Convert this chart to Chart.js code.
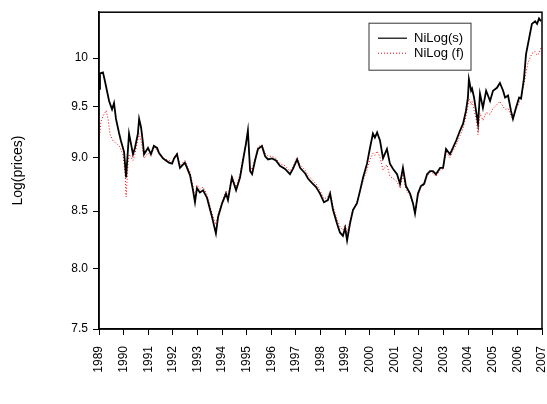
<!DOCTYPE html>
<html>
<head>
<meta charset="utf-8">
<script src="https://cdn.jsdelivr.net/npm/chart.js"></script>
<style>
  body { margin: 0; background: #fff; }
  #c { display: block; }
</style>
</head>
<body>
<canvas id="c" width="547" height="404"></canvas>
<script>
// NiLog(s) - spot
const sYears = [1989.0, 1989.04, 1989.16, 1989.24, 1989.41, 1989.53, 1989.61, 1989.69, 1989.81, 1989.89,
  1990.02, 1990.1, 1990.22, 1990.3, 1990.38, 1990.46, 1990.58, 1990.63, 1990.71, 1990.79, 1990.83, 1990.99,
  1991.11, 1991.23, 1991.36, 1991.44, 1991.6, 1991.72, 1991.84, 1991.97, 1992.05, 1992.17, 1992.29, 1992.49,
  1992.7, 1992.82, 1992.9, 1992.98, 1993.1, 1993.23, 1993.39, 1993.59, 1993.75, 1993.84, 1994.0, 1994.16,
  1994.24, 1994.4, 1994.57, 1994.73, 1994.85, 1994.97, 1995.05, 1995.14, 1995.22, 1995.34, 1995.46, 1995.62,
  1995.75, 1995.87, 1996.03, 1996.19, 1996.35, 1996.56, 1996.76, 1996.88, 1997.05, 1997.17, 1997.37, 1997.49,
  1997.65, 1997.82, 1997.98, 1998.14, 1998.3, 1998.39, 1998.51, 1998.67, 1998.79, 1998.91, 1999.0, 1999.08,
  1999.2, 1999.32, 1999.48, 1999.61, 1999.73, 1999.89, 2000.01, 2000.13, 2000.21, 2000.3, 2000.42, 2000.54,
  2000.7, 2000.82, 2000.95, 2001.11, 2001.23, 2001.35, 2001.47, 2001.64, 2001.76, 2001.84, 2001.96, 2002.08,
  2002.21, 2002.33, 2002.45, 2002.57, 2002.69, 2002.86, 2002.98, 2003.1, 2003.26, 2003.38, 2003.51, 2003.67,
  2003.79, 2003.91, 2003.99, 2004.03, 2004.12, 2004.16, 2004.24, 2004.32, 2004.4, 2004.48, 2004.6, 2004.73,
  2004.89, 2005.01, 2005.17, 2005.29, 2005.42, 2005.5, 2005.62, 2005.74, 2005.82, 2005.94, 2006.07, 2006.15,
  2006.27, 2006.35, 2006.43, 2006.51, 2006.59, 2006.72, 2006.8, 2006.88, 2006.96];
const sValues = [9.68, 9.84, 9.85, 9.76, 9.555, 9.47, 9.535, 9.375, 9.24, 9.16,
  9.05, 8.81, 9.23, 9.13, 9.03, 9.09, 9.23, 9.375, 9.29, 9.13, 9.03, 9.09,
  9.03, 9.11, 9.09, 9.04, 8.99, 8.97, 8.95, 8.94, 8.99, 9.03, 8.90, 8.95,
  8.83, 8.69, 8.58, 8.71, 8.67, 8.69, 8.62, 8.45, 8.30, 8.45, 8.57, 8.66,
  8.60, 8.81, 8.69, 8.81, 8.97, 9.13, 9.26, 8.87, 8.84, 8.97, 9.08, 9.11,
  9.01, 8.98, 8.99, 8.97, 8.92, 8.89, 8.84, 8.89, 8.98, 8.90, 8.85, 8.80,
  8.76, 8.72, 8.66, 8.58, 8.60, 8.66, 8.51, 8.39, 8.31, 8.28, 8.35, 8.24,
  8.39, 8.51, 8.57, 8.69, 8.81, 8.94, 9.09, 9.23, 9.19, 9.24, 9.16, 8.99,
  9.08, 8.94, 8.89, 8.84, 8.75, 8.90, 8.73, 8.66, 8.57, 8.48, 8.66, 8.73,
  8.75, 8.84, 8.87, 8.87, 8.84, 8.90, 8.90, 9.08, 9.03, 9.09, 9.16, 9.26,
  9.325, 9.455, 9.59, 9.78, 9.66, 9.68, 9.59, 9.455, 9.325, 9.63, 9.485, 9.66,
  9.555, 9.66, 9.69, 9.74, 9.66, 9.59, 9.61, 9.455, 9.375, 9.485, 9.59, 9.58,
  9.79, 10.04, 10.15, 10.26, 10.37, 10.40, 10.37, 10.43, 10.40];

// NiLog (f) - futures
const fYears = [1989.0, 1989.08, 1989.16, 1989.29, 1989.37, 1989.45, 1989.57, 1989.73, 1989.85, 1989.98,
  1990.06, 1990.1, 1990.18, 1990.22, 1990.38, 1990.46, 1990.63, 1990.71, 1990.83, 1990.99,
  1991.11, 1991.23, 1991.36, 1991.44, 1991.6, 1991.72, 1991.84, 1991.97, 1992.05, 1992.17, 1992.29, 1992.49,
  1992.7, 1992.82, 1992.9, 1992.98, 1993.1, 1993.23, 1993.39, 1993.59, 1993.75, 1993.84, 1994.0, 1994.16,
  1994.24, 1994.4, 1994.57, 1994.73, 1994.85, 1994.97, 1995.05, 1995.14, 1995.22, 1995.34, 1995.46, 1995.62,
  1995.75, 1995.87, 1996.03, 1996.19, 1996.35, 1996.56, 1996.76, 1996.88, 1997.05, 1997.17, 1997.37, 1997.49,
  1997.65, 1997.82, 1997.98, 1998.14, 1998.3, 1998.39, 1998.51, 1998.67, 1998.79, 1998.91, 1999.0, 1999.08,
  1999.2, 1999.32, 1999.48, 1999.61, 1999.73, 1999.89, 2000.01, 2000.13, 2000.21, 2000.3, 2000.42, 2000.54,
  2000.7, 2000.82, 2000.95, 2001.11, 2001.23, 2001.35, 2001.47, 2001.64, 2001.76, 2001.84, 2001.96, 2002.08,
  2002.21, 2002.33, 2002.45, 2002.57, 2002.69, 2002.86, 2002.98, 2003.1, 2003.26, 2003.38, 2003.51, 2003.67,
  2003.79, 2003.91, 2003.99, 2004.03, 2004.12, 2004.16, 2004.24, 2004.32, 2004.4, 2004.48, 2004.6, 2004.73,
  2004.89, 2005.01, 2005.17, 2005.29, 2005.42, 2005.5, 2005.62, 2005.74, 2005.82, 2005.94, 2006.07, 2006.15,
  2006.27, 2006.35, 2006.43, 2006.51, 2006.59, 2006.72, 2006.8, 2006.88, 2006.96];
const fValues = [9.15, 9.35, 9.40, 9.46, 9.37, 9.22, 9.16, 9.13, 9.10, 9.02,
  8.85, 8.63, 8.94, 9.03, 8.97, 9.03, 9.23, 9.16, 8.99, 9.04,
  9.01, 9.09, 9.07, 9.03, 9.00, 8.98, 8.97, 8.96, 9.00, 9.04, 8.92, 8.97,
  8.86, 8.72, 8.62, 8.74, 8.70, 8.72, 8.65, 8.48, 8.38, 8.47, 8.59, 8.68,
  8.63, 8.83, 8.72, 8.84, 8.99, 9.13, 9.22, 8.92, 8.88, 8.99, 9.10, 9.12,
  9.04, 9.01, 9.01, 8.99, 8.94, 8.92, 8.87, 8.91, 9.00, 8.93, 8.88, 8.83,
  8.79, 8.75, 8.69, 8.61, 8.63, 8.68, 8.54, 8.43, 8.36, 8.33, 8.38, 8.30,
  8.42, 8.52, 8.58, 8.68, 8.78, 8.88, 8.98, 9.04, 9.02, 9.06, 9.00, 8.88,
  8.93, 8.82, 8.80, 8.77, 8.71, 8.84, 8.70, 8.64, 8.56, 8.47, 8.64, 8.72,
  8.74, 8.82, 8.86, 8.85, 8.82, 8.88, 8.89, 9.05, 9.00, 9.06, 9.12, 9.21,
  9.28, 9.40, 9.50, 9.58, 9.52, 9.55, 9.46, 9.38, 9.22, 9.43, 9.36, 9.44,
  9.42, 9.48, 9.52, 9.55, 9.50, 9.47, 9.48, 9.41, 9.37, 9.47, 9.54, 9.60,
  9.73, 9.85, 9.95, 10.0, 10.05, 10.07, 10.03, 10.05, 10.11];

const yTicks = [7.5, 8.0, 8.5, 9.0, 9.5, 10];
const yTickLabels = ['7.5', '8.0', '8.5', '9.0', '9.5', '10'];
const seriesNames = ['NiLog(s)', 'NiLog (f)'];

Chart.defaults.font.family = '"Liberation Sans", Arial, sans-serif';
Chart.defaults.color = '#000';

function pts(xs, ys) {
  return xs.map(function (x, i) { return { x: x, y: ys[i] }; });
}

// box round the plot and the legend inside it
var boxPlugin = {
  id: 'boxPlugin',
  afterDraw: function (chart) {
    var ctx = chart.ctx, a = chart.chartArea;
    ctx.save();
    ctx.strokeStyle = '#000';
    ctx.lineWidth = 1.5;
    ctx.strokeRect(a.left, a.top, a.right - a.left, a.bottom - a.top);

    var lx = a.left + 270, ly = a.top + 11;
    ctx.lineWidth = 1;
    ctx.strokeStyle = '#333';
    ctx.strokeRect(lx, ly, 102, 47);
    ctx.font = '13px "Liberation Sans", Arial, sans-serif';
    ctx.textBaseline = 'middle';
    ctx.fillStyle = '#000';
    chart.data.datasets.forEach(function (ds, i) {
      var y = ly + 15 + i * 15;
      ctx.beginPath();
      ctx.strokeStyle = ds.borderColor;
      ctx.lineWidth = i == 0 ? 1.2 : 1;
      ctx.setLineDash(ds.borderDash || []);
      ctx.moveTo(lx + 9, y);
      ctx.lineTo(lx + 38, y);
      ctx.stroke();
      ctx.setLineDash([]);
      ctx.fillText(ds.label, lx + 45, y);
    });
    ctx.restore();
  }
};

var ctx = document.getElementById('c').getContext('2d');

var data = {
  datasets: [
    {
      label: seriesNames[0],
      data: pts(sYears, sValues),
      borderColor: '#000',
      borderWidth: 1.8,
      pointRadius: 0,
      tension: 0
    },
    {
      label: seriesNames[1],
      data: pts(fYears, fValues),
      borderColor: '#ff0000',
      borderWidth: 1,
      borderDash: [1, 2],
      pointRadius: 0,
      tension: 0
    }
  ]
};

var options = {
  responsive: false,
  animation: false,
  layout: { padding: { left: 0, right: 5, top: 11, bottom: 0 } },
  plugins: { legend: { display: false }, tooltip: { enabled: false } },
  scales: {
    x: {
      type: 'linear',
      min: 1989,
      max: 2007,
      grid: { drawOnChartArea: false, drawTicks: true, tickLength: 6, color: '#000' },
      border: { color: '#000', width: 1.5 },
      ticks: {
        stepSize: 1,
        minRotation: 90,
        maxRotation: 90,
        padding: 11,
        font: { size: 12 },
        callback: function (v) { return String(v); }
      },
      afterFit: function (s) { s.height = 75; s.paddingLeft = 0; s.paddingRight = 0; }
    },
    y: {
      type: 'logarithmic',
      min: 7.5,
      max: 10.5,
      grid: { drawOnChartArea: false, drawTicks: true, tickLength: 6, color: '#000' },
      border: { color: '#000', width: 1.5 },
      afterBuildTicks: function (s) {
        s.ticks = yTicks.map(function (v) { return { value: v }; });
      },
      ticks: {
        padding: 5,
        font: { size: 12 },
        callback: function (v, i) { return yTickLabels[i]; }
      },
      title: {
        display: true,
        text: 'Log(prices)',
        font: { size: 14 },
        padding: { top: 10, bottom: 4 }
      },
      afterFit: function (s) { s.width = 99; }
    }
  }
};

var config = {
  type: 'line',
  data: data,
  options: options,
  plugins: [boxPlugin]
};
var chart = new Chart(ctx, config);
</script>
</body>
</html>
